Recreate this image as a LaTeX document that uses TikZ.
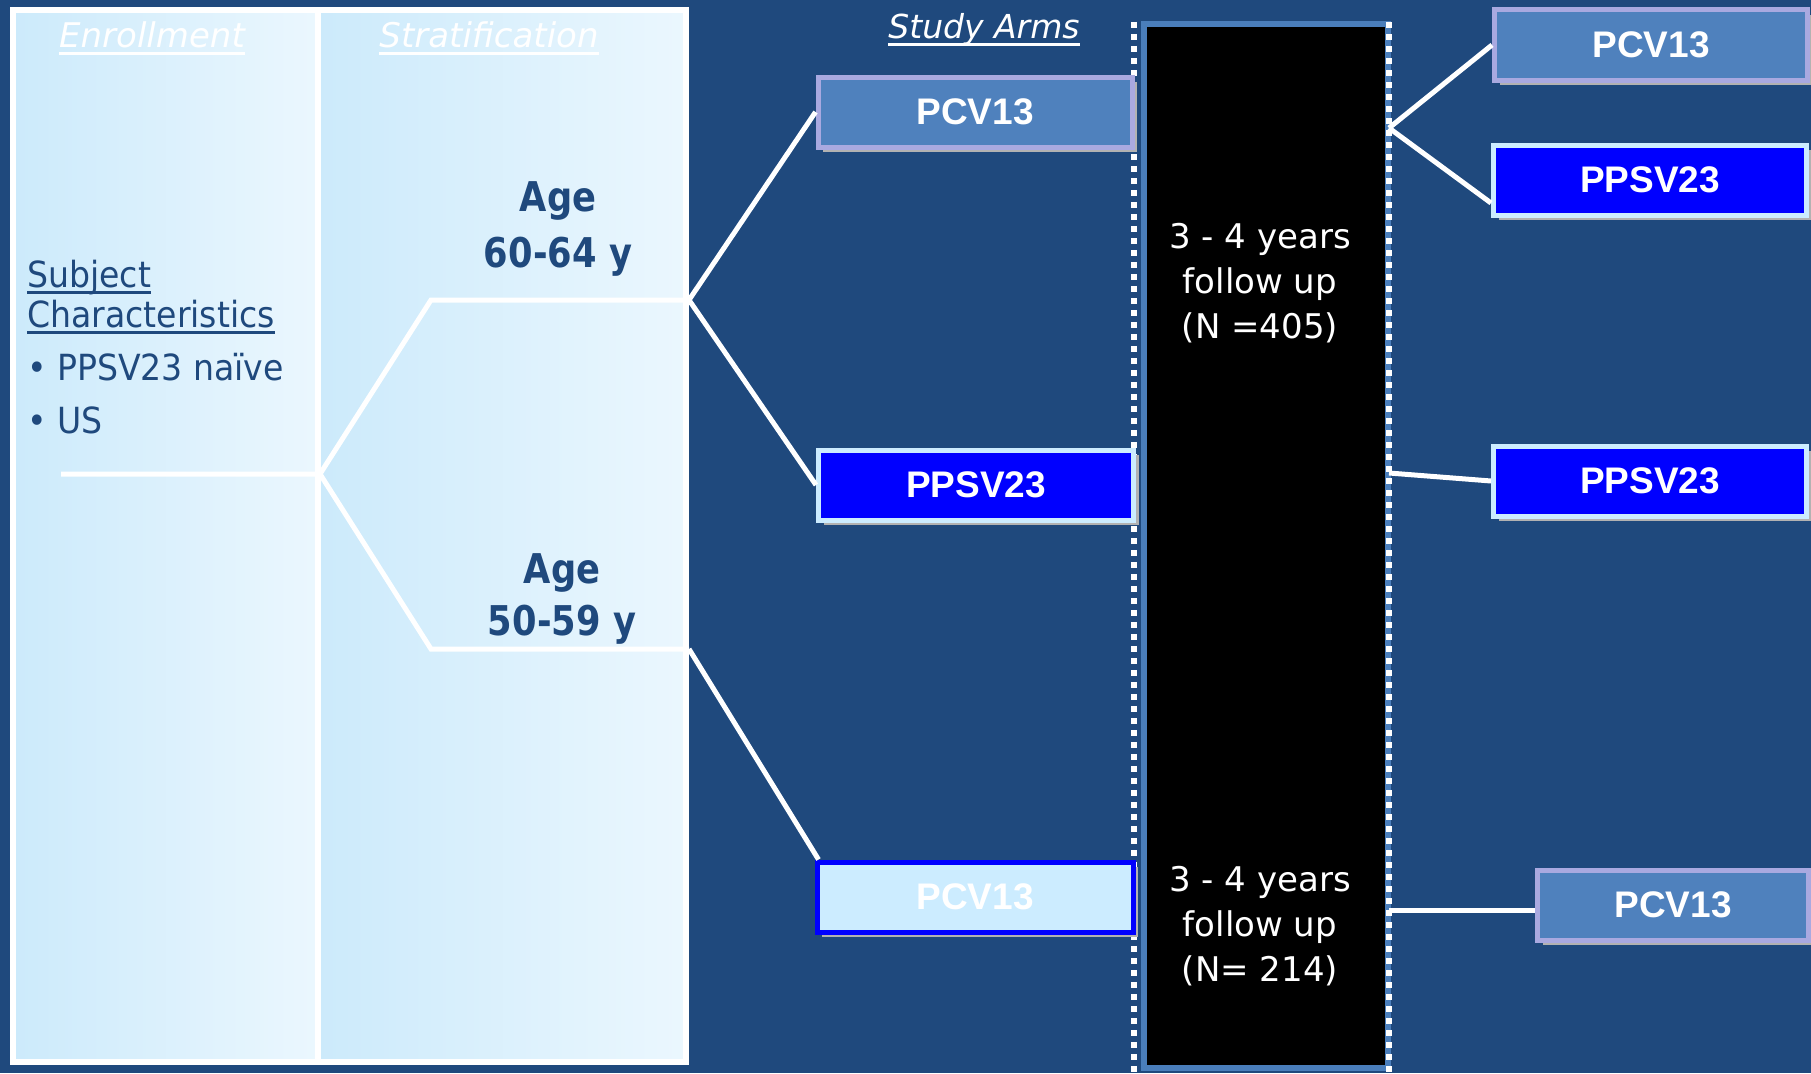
\documentclass[tikz,border=0pt]{standalone}
\usepackage{fontspec}
\setmainfont{DejaVu Sans}
\newfontfamily\tah[FakeStretch=0.92]{DejaVu Sans}
\newfontfamily\tahb[FakeStretch=0.86]{DejaVu Sans}
\newfontfamily\arl{Liberation Sans}
\usetikzlibrary{shadows,calc}
\definecolor{bg}{HTML}{1F497D}
\definecolor{pcv}{HTML}{4F81BD}
\definecolor{lav}{HTML}{A9A9E0}
\definecolor{lblue}{HTML}{CCECFF}
\definecolor{pure}{HTML}{0000FF}
\definecolor{fub}{HTML}{4A7EBB}
\definecolor{pl}{HTML}{CCEAFB}
\definecolor{pr}{HTML}{EBF7FE}
\tikzset{
  armbox/.style={line width=5pt, inner sep=0pt, minimum height=70pt, text=white,
    font=\arl\bfseries\fontsize{37}{40}\selectfont,
    drop shadow={shadow xshift=5pt, shadow yshift=-5pt, fill=black!30, opacity=1}},
  pcvbox/.style={armbox, draw=lav, fill=pcv},
  ppsvbox/.style={armbox, draw=lblue, fill=pure},
  pcvlight/.style={armbox, draw=pure, fill=lblue},
  wire/.style={white, line width=5pt},
  ttl/.style={text=white, font=\itshape\fontsize{34}{40}\selectfont, inner sep=0pt, anchor=base},
  uline/.style={white, line width=3pt},
  dline/.style={bg, line width=3pt},
  dark/.style={text=bg, inner sep=0pt, anchor=base west, font=\tah\fontsize{36}{40}\selectfont},
  agelbl/.style={text=bg, inner sep=0pt, anchor=base, font=\tahb\bfseries\fontsize{41}{48}\selectfont},
  fut/.style={text=white, align=center, font=\fontsize{34}{45}\selectfont},
  dots/.style={white, line width=6pt, dash pattern=on 6pt off 6pt},
  panel/.style={draw=white, line width=6pt, left color=pl, right color=pr},
}
\begin{document}
\begin{tikzpicture}[x=1pt,y=-1pt]
\useasboundingbox (0,0) rectangle (1811,1073);
\fill[bg] (0,0) rectangle (1811,1073);
% panels
\path[panel] (13,10) rectangle (318,1062);
\path[panel] (318,10) rectangle (686,1062);
% titles
\node[ttl] (en) at (152,48) {Enrollment};
\draw[uline] ([yshift=-6pt]en.base west) -- ([yshift=-6pt]en.base east);
\node[ttl] (st) at (489,48) {Stratification};
\draw[uline] ([yshift=-6pt]st.base west) -- ([yshift=-6pt]st.base east);
\node[ttl, font=\itshape\fontsize{33}{40}\selectfont] (sa) at (984,39) {Study Arms};
\draw[uline] ([yshift=-6pt]sa.base west) -- ([yshift=-6pt]sa.base east);
% subject characteristics
\node[dark] (s1) at (27,287) {Subject};
\draw[dline] ([yshift=-5pt]s1.base west) -- ([yshift=-5pt]s1.base east);
\node[dark] (s2) at (27,327) {Characteristics};
\draw[dline] ([yshift=-5pt]s2.base west) -- ([yshift=-5pt]s2.base east);
\node[dark] (s3) at (27,380) {\makebox[30pt][l]{•}PPSV23 naïve};
\node[dark] (s4) at (27,433) {\makebox[30pt][l]{•}US};
% age labels
\node[agelbl] (a1) at (558,211) {Age};
\node[agelbl] (a2) at (558,267) {60-64 y};
\node[agelbl] (a3) at (562,583) {Age};
\node[agelbl] (a4) at (562,635) {50-59 y};
% follow-up column
\node[draw=fub, fill=black, line width=6pt, minimum width=244pt, minimum height=1043pt, inner sep=0pt] (fu) at (1266,546) {};
\coordinate (dl1) at (1134,22);
\coordinate (dl2) at (1134,1073);
\coordinate (dr1) at (1389,22);
\coordinate (dr2) at (1389,1073);
\draw[dots] (dl1) -- (dl2);
\draw[dots] (dr1) -- (dr2);
\node[fut] (t1) at (1260,283) {3 - 4 years\\follow up\\(N =405)};
\node[fut] (t2) at (1260,926) {3 - 4 years\\follow up\\(N= 214)};
% tree
\coordinate (e0) at (61,474);
\coordinate (j) at (320,474);
\coordinate (b1) at (431,300);
\coordinate (h1) at (689,300);
\coordinate (b2) at (431,649);
\coordinate (h2) at (689,649);
\draw[wire] (e0) -- (j) -- (b1) -- (h1);
\draw[wire] (j) -- (b2) -- (h2);
% arm boxes
\node[pcvbox, minimum width=314pt] (m1) at (975,112) {PCV13};
\node[ppsvbox, minimum width=315pt] (m2) at (976,485) {PPSV23};
\node[pcvlight, minimum width=316pt] (m3) at (975,897) {PCV13};
\node[pcvbox, minimum width=313pt] (r1) at (1651,45) {PCV13};
\node[ppsvbox, minimum width=313pt] (r2) at (1650,180) {PPSV23};
\node[ppsvbox, minimum width=313pt] (r3) at (1650,481) {PPSV23};
\node[pcvbox, minimum width=271pt] (r4) at (1673,905) {PCV13};
\draw[wire] (h1) -- (m1.west);
\draw[wire] (h1) -- (m2.west);
\draw[wire] (h2) -- ($(m3.north west)+(4,0)$);
\coordinate (rj1) at (1389,128);
\coordinate (rj2) at (1389,473);
\coordinate (rj3) at (1389,910);
\draw[wire] (rj1) -- (r1.west);
\draw[wire] (rj1) -- ($(r2.west)+(0,23)$);
\draw[wire] (rj2) -- (r3.west);
\draw[wire] (rj3) -- (rj3 -| r4.west);
\end{tikzpicture}
\end{document}
